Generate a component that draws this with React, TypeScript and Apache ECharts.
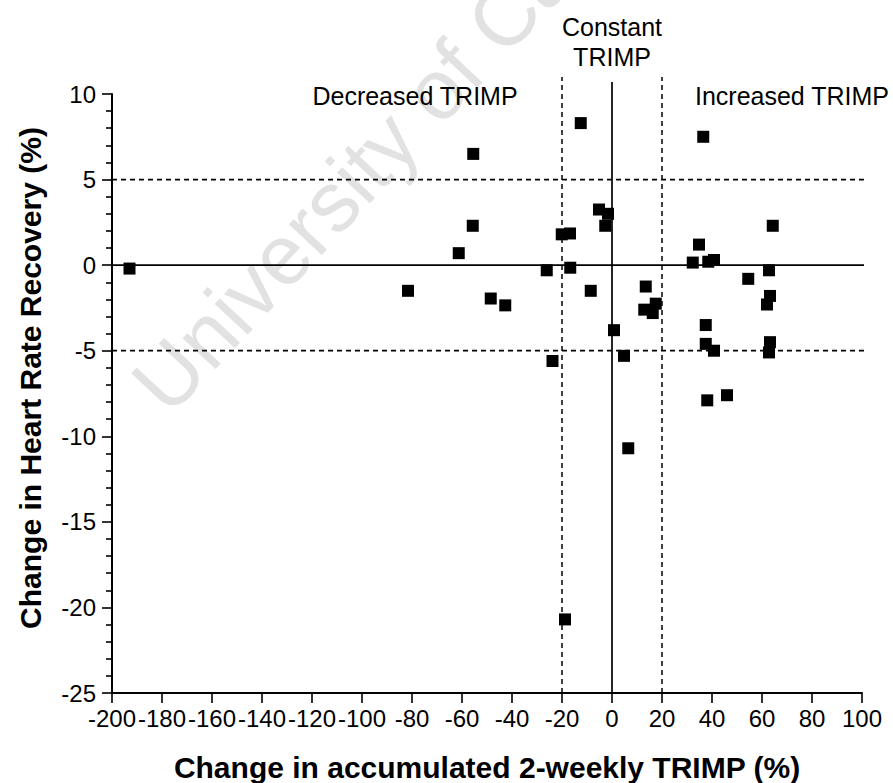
import React, { useEffect, useRef } from "react";
import * as echarts from "echarts";

// Change in accumulated 2-weekly TRIMP (%)
const trimpChange = [
  -193, -12.5, -55.5, -55.7, -61.3, -81.6, -48.5, -42.7, -26.1, -20.1, -16.8,
  -16.7, -8.5, -5.2, -1.6, -2.7, 13.5, 12.9, 17.5, 16.3, 0.8, 4.8, 36.5, 34.8,
  32.3, 38.5, 40.8, 64.3, 54.5, 62.8, 63.2, 62.0, 37.5, 37.5, 40.8, 63.2, 62.8,
  38.1, 46.0, -23.8, 6.5, -18.8,
];
// Change in Heart Rate Recovery (%)
const hrrChange = [
  -0.2, 8.3, 6.5, 2.3, 0.7, -1.5, -1.95, -2.35, -0.3, 1.8, 1.85, -0.15, -1.5,
  3.25, 3.0, 2.3, -1.25, -2.6, -2.25, -2.8, -3.8, -5.3, 7.5, 1.2, 0.15, 0.2, 0.3,
  2.3, -0.8, -0.3, -1.8, -2.3, -3.5, -4.6, -5.0, -4.5, -5.1, -7.9, -7.6, -5.6,
  -10.7, -20.7,
];

const xRange = [-200, 100];
const yRange = [-25, 10];
const xTickStep = 20;
const yTickStep = 5;

// reference lines
const hLines = [
  { y: 5, dashed: true },
  { y: 0, dashed: false },
  { y: -5, dashed: true },
];
const hLineExtent = [-200, 106];
const vLines = [
  { x: -20, dashed: true, top: 11 },
  { x: 0, dashed: false, top: 10.7 },
  { x: 20, dashed: true, top: 11 },
];

const regionLabels = {
  decreased: "Decreased TRIMP",
  constant: "Constant\nTRIMP",
  increased: "Increased TRIMP",
};
const xTitle = "Change in accumulated 2-weekly TRIMP (%)";
const yTitle = "Change in Heart Rate Recovery (%)";
const watermark = "University of Cape Town";

const FONT = "'Liberation Sans', Arial, Helvetica, sans-serif";

export default function App() {
  const ref = useRef<HTMLDivElement>(null);

  useEffect(() => {
    if (!ref.current) return;
    const chart = echarts.init(ref.current, undefined, { renderer: "svg" });

    const points = trimpChange.map((x, i) => [x, hrrChange[i]]);

    const lineSeries: any[] = [];
    hLines.forEach((l) => {
      lineSeries.push({
        type: "line",
        data: [
          [hLineExtent[0], l.y],
          [hLineExtent[1], l.y],
        ],
        symbol: "none",
        clip: false,
        silent: true,
        z: 1,
        lineStyle: {
          color: "#000",
          width: l.dashed ? 1.7 : 1.8,
          type: l.dashed ? [5, 4] : "solid",
        },
      });
    });
    vLines.forEach((l) => {
      lineSeries.push({
        type: "line",
        data: [
          [l.x, yRange[0]],
          [l.x, l.top],
        ],
        symbol: "none",
        clip: false,
        silent: true,
        z: 1,
        lineStyle: {
          color: "#000",
          width: l.dashed ? 1.5 : 1.7,
          type: l.dashed ? [5, 4] : "solid",
        },
      });
    });

    const wmAngle = (47 * Math.PI) / 180;

    chart.setOption({
      animation: false,
      backgroundColor: "#fff",
      grid: { left: 112, right: 31, top: 94, bottom: 90, containLabel: false },
      xAxis: {
        type: "value",
        min: xRange[0],
        max: xRange[1],
        interval: xTickStep,
        axisLine: { onZero: false, lineStyle: { color: "#000", width: 2 } },
        axisTick: { show: true, length: 10, lineStyle: { color: "#000", width: 1.6 } },
        axisLabel: {
          color: "#000",
          fontFamily: FONT,
          fontSize: 24,
          margin: 13,
        },
        splitLine: { show: false },
      },
      yAxis: {
        type: "value",
        min: yRange[0],
        max: yRange[1],
        interval: yTickStep,
        axisLine: { onZero: false, lineStyle: { color: "#000", width: 2 } },
        axisTick: { show: true, length: 10, lineStyle: { color: "#000", width: 1.6 } },
        minorTick: { show: true, splitNumber: 5, length: 6, lineStyle: { color: "#000", width: 1.6 } },
        axisLabel: {
          color: "#000",
          fontFamily: FONT,
          fontSize: 24,
          margin: 16,
        },
        splitLine: { show: false },
        minorSplitLine: { show: false },
      },
      graphic: [
        {
          type: "text",
          x: 148,
          y: 398,
          rotation: wmAngle,
          z: -10,
          silent: true,
          style: {
            text: watermark,
            fill: "#e2e2e2",
            font: `85px ${FONT}`,
            textAlign: "left",
            textVerticalAlign: "middle",
          },
        },
        {
          type: "text",
          x: 415,
          y: 96,
          style: {
            text: regionLabels.decreased,
            fill: "#000",
            font: `25px ${FONT}`,
            textAlign: "center",
            textVerticalAlign: "middle",
          },
        },
        {
          type: "text",
          x: 612,
          y: 42,
          style: {
            text: regionLabels.constant,
            fill: "#000",
            font: `25px ${FONT}`,
            lineHeight: 30,
            textAlign: "center",
            textVerticalAlign: "middle",
          },
        },
        {
          type: "text",
          x: 792,
          y: 96,
          style: {
            text: regionLabels.increased,
            fill: "#000",
            font: `25px ${FONT}`,
            textAlign: "center",
            textVerticalAlign: "middle",
          },
        },
        {
          type: "text",
          x: 487,
          y: 767,
          style: {
            text: xTitle,
            fill: "#000",
            font: `bold 30px ${FONT}`,
            textAlign: "center",
            textVerticalAlign: "middle",
          },
        },
        {
          type: "text",
          x: 30,
          y: 378,
          rotation: Math.PI / 2,
          style: {
            text: yTitle,
            fill: "#000",
            font: `bold 30px ${FONT}`,
            textAlign: "center",
            textVerticalAlign: "middle",
          },
        },
      ],
      series: [
        ...lineSeries,
        {
          type: "scatter",
          data: points,
          symbol: "rect",
          symbolSize: 12,
          z: 5,
          itemStyle: { color: "#000", opacity: 1 },
        },
      ],
    });

    return () => chart.dispose();
  }, []);

  return (
    <div
      ref={ref}
      style={{ position: "fixed", left: 0, top: 0, width: 893, height: 783 }}
    />
  );
}
